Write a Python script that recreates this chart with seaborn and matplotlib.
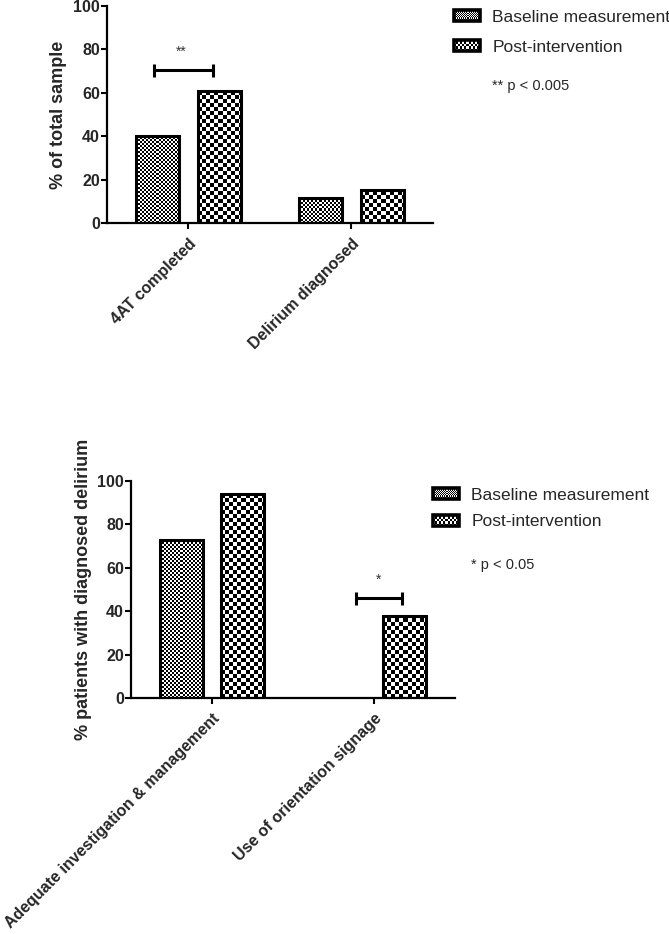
import numpy as np
import pandas as pd
import seaborn as sns
import matplotlib.pyplot as plt
from matplotlib.patches import Rectangle
from matplotlib.legend_handler import HandlerBase
from matplotlib.image import BboxImage
from matplotlib.transforms import Bbox, TransformedBbox

sns.set_style('white')
plt.rcParams['font.family'] = ['Liberation Sans', 'DejaVu Sans']

# values
phases = ['Baseline measurement', 'Post-intervention']
top_measures = ['4AT completed', 'Delirium diagnosed']
top_baseline = [40, 11.7]
top_post = [60.7, 15.2]
bottom_measures = ['Adequate investigation & management', 'Use of orientation signage']
bottom_baseline = [72.8, 0]
bottom_post = [94, 37.6]
yticks = [0, 20, 40, 60, 80, 100]

# checker cell size in pixels, per phase
cells = {'Baseline measurement': 2, 'Post-intervention': 4}


def checker(h, w, c):
    yy, xx = np.indices((h, w))
    return ((yy // c + xx // c) % 2).astype(float)


class CheckerHandler(HandlerBase):
    def __init__(self, cell):
        super().__init__()
        self.cell = cell

    def create_artists(self, legend, orig_handle, xdescent, ydescent,
                       width, height, fontsize, trans):
        bb = TransformedBbox(Bbox.from_bounds(-xdescent, -ydescent, width, height), trans)
        img = BboxImage(bb, cmap='gray', norm=plt.Normalize(0, 1), interpolation='nearest')
        img.set_data(checker(10, 26, self.cell))
        frame = Rectangle((-xdescent, -ydescent), width, height, facecolor='none',
                          edgecolor='black', linewidth=2.6, transform=trans)
        return [img, frame]


def make_df(measures, base, post):
    return pd.DataFrame({
        'measure': measures * 2,
        'phase': [phases[0]] * len(measures) + [phases[1]] * len(measures),
        'value': base + post,
    })


fig = plt.figure(figsize=(6.69, 9.34), dpi=100)
ax1 = fig.add_axes([0.160, 0.7612, 0.487, 0.2323])
ax2 = fig.add_axes([0.1958, 0.2527, 0.4843, 0.2323])

panels = [
    (ax1, make_df(top_measures, top_baseline, top_post), '% of total sample', 4.5),
    (ax2, make_df(bottom_measures, bottom_baseline, bottom_post), '% patients with diagnosed delirium', 4),
]

for ax, df, ylab, lpad in panels:
    sns.barplot(data=df, x='measure', y='value', hue='phase', hue_order=phases,
                width=0.76, gap=0.3, ax=ax, legend=False, errorbar=None,
                edgecolor='black', linewidth=2.2)
    ax.set_xlim(-0.5, 1.5)
    ax.set_ylim(0, 100)
    ax.set_yticks(yticks)
    ax.set_xlabel('')
    ax.set_ylabel(ylab, fontsize=13, fontweight='bold', labelpad=lpad)
    sns.despine(ax=ax)
    for s in ['left', 'bottom']:
        ax.spines[s].set_linewidth(1.6)
        ax.spines[s].set_color('black')
    ax.tick_params(axis='both', direction='out', length=4, width=1.5, color='black',
                   left=True, bottom=True)
    ax.tick_params(axis='y', pad=1)
    ax.tick_params(axis='x', pad=5.5)
    for t in ax.get_yticklabels():
        t.set_fontsize(11.5)
        t.set_fontweight('bold')
    for t in ax.get_xticklabels():
        t.set_fontsize(11.5)
        t.set_fontweight('bold')
        t.set_rotation(45)
        t.set_ha('right')
        t.set_va('top')
        t.set_rotation_mode('anchor')

fig.canvas.draw()

# fill each bar with its checker pattern
for ax, df, ylab, lpad in panels:
    for p in list(ax.patches):
        h = p.get_height()
        if h <= 0:
            p.set_visible(False)
            continue
        xc = p.get_x() + p.get_width() / 2
        phase = phases[0] if xc < round(xc) else phases[1]
        bb = p.get_window_extent()
        w_px = max(int(round(bb.width)), 1)
        h_px = max(int(round(bb.height)), 1)
        p.set_facecolor('none')
        p.set_zorder(3)
        im = ax.imshow(checker(h_px, w_px, cells[phase]), cmap='gray', vmin=0, vmax=1,
                       extent=[p.get_x(), p.get_x() + p.get_width(), 0, h],
                       origin='lower', interpolation='nearest', aspect='auto', zorder=2)
        im.set_clip_path(p)
    ax.set_xlim(-0.5, 1.5)
    ax.set_ylim(0, 100)

# significance brackets
def bracket(ax, x0, x1, y, label, ystar, xstar):
    ax.plot([x0, x1], [y, y], color='black', lw=2.2, solid_capstyle='butt', zorder=4)
    for x in (x0, x1):
        ax.plot([x, x], [y - 3, y + 3], color='black', lw=2.2, solid_capstyle='butt', zorder=4)
    ax.text(xstar, ystar, label, ha='center', va='center', fontsize=10, color='#333333')

bracket(ax1, -0.211, 0.149, 70.5, '**', 78.8, -0.043)
bracket(ax2, 0.89, 1.173, 45.9, '*', 54.3, 1.025)

# legends
for xa, ya, ax, sp in [(454 / 669, 1 - 10 / 934, ax1, 0.85), (433 / 669, 1 - 488 / 934, ax2, 0.65)]:
    h1 = Rectangle((0, 0), 1, 1)
    h2 = Rectangle((0, 0), 1, 1)
    fig.legend([h1, h2], phases, loc='upper left', bbox_to_anchor=(xa, ya),
               frameon=False, fontsize=12.5, handlelength=1.5, handleheight=0.6,
               handletextpad=0.7, labelspacing=sp, borderpad=0, borderaxespad=0,
               handler_map={h1: CheckerHandler(1), h2: CheckerHandler(2)})

fig.text(492 / 669, 1 - 86 / 934, '** p < 0.005', ha='left', va='center', fontsize=10.5)
fig.text(471 / 669, 1 - 565 / 934, '* p < 0.05', ha='left', va='center', fontsize=10.5)

fig.savefig('out.png', dpi=100)
